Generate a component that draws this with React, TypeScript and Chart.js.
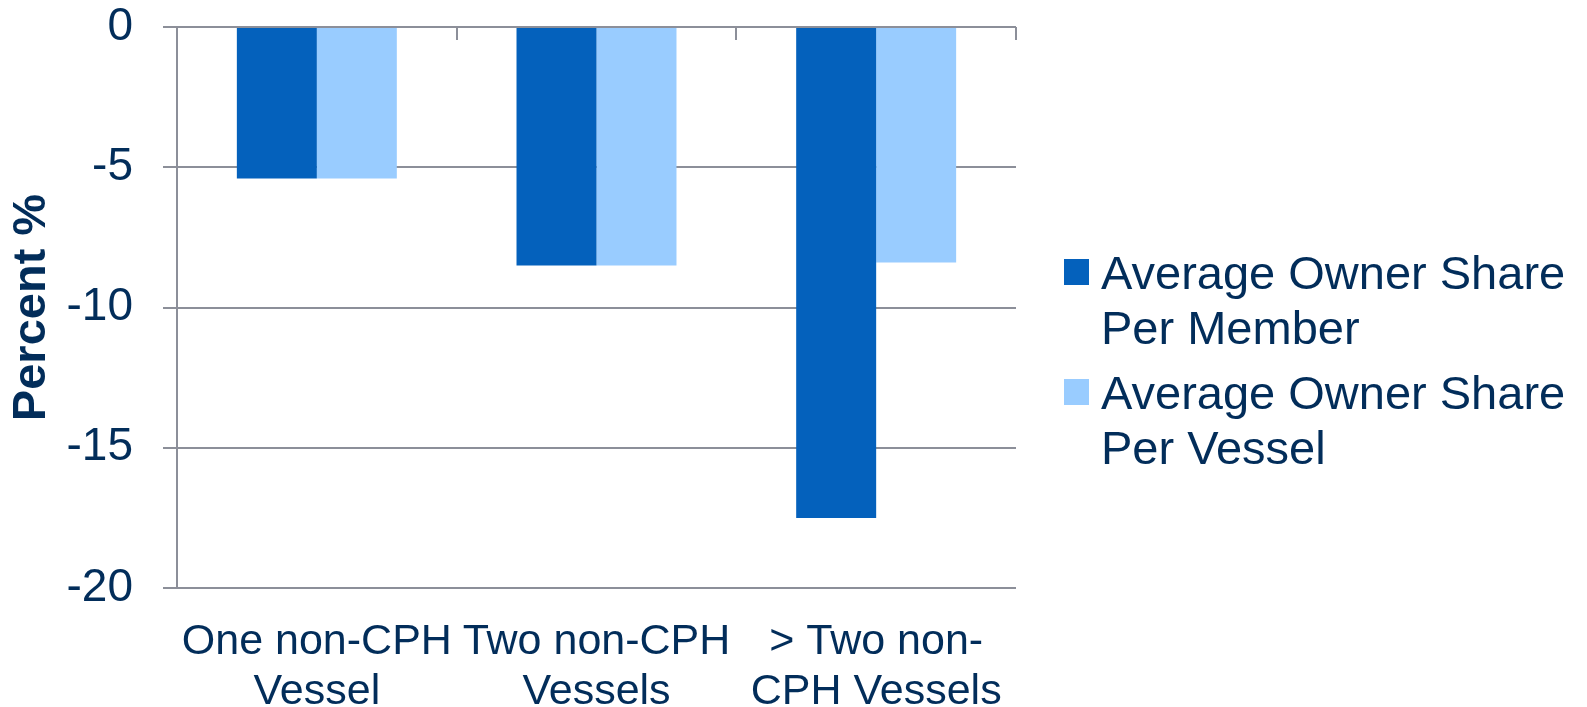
import React, { useEffect, useRef } from 'react';
import { Chart, registerables } from 'chart.js';

Chart.register(...registerables);

const categories: string[][] = [
  ['One non-CPH', 'Vessel'],
  ['Two non-CPH', 'Vessels'],
  ['> Two non-', 'CPH Vessels'],
];
const perMember: number[] = [-5.4, -8.5, -17.5];
const perVessel: number[] = [-5.4, -8.5, -8.4];
const seriesNames: string[] = ['Average Owner Share Per Member', 'Average Owner Share Per Vessel'];
const seriesColors: string[] = ['#0461BC', '#99CCFF'];
const yMin = -20;
const yMax = 0;
const yStep = 5;

const TEXT = '#022D5A';
const GRID = '#8C8F99';
const FONT = "'Liberation Sans', Arial, sans-serif";

const topTicksPlugin = {
  id: 'topTicks',
  afterDraw(chart: any) {
    const x = chart.scales.x;
    const y = chart.scales.y;
    const ctx = chart.ctx;
    const n = chart.data.labels.length;
    const y0 = y.getPixelForValue(0);
    ctx.save();
    ctx.strokeStyle = GRID;
    ctx.lineWidth = 2;
    for (let i = 0; i <= n; i++) {
      const px = Math.round(x.left + (i * (x.right - x.left)) / n);
      ctx.beginPath();
      ctx.moveTo(px, y0);
      ctx.lineTo(px, y0 + 13);
      ctx.stroke();
    }
    ctx.restore();
  },
};

const legendPlugin = {
  id: 'wrapLegend',
  afterDraw(chart: any) {
    const ctx = chart.ctx;
    const area = chart.chartArea;
    const boxX = area.right + 48;
    const textX = area.right + 85;
    const maxW = 480;
    const lineH = 55;
    const entryGap = 10;
    let baseline = 289;
    ctx.save();
    ctx.font = `47px ${FONT}`;
    ctx.textBaseline = 'alphabetic';
    ctx.textAlign = 'left';
    chart.data.datasets.forEach((ds: any) => {
      const words = String(ds.label).split(' ');
      const lines: string[] = [];
      let cur = '';
      words.forEach((w: string) => {
        const t = cur ? cur + ' ' + w : w;
        if (ctx.measureText(t).width > maxW && cur) {
          lines.push(cur);
          cur = w;
        } else cur = t;
      });
      if (cur) lines.push(cur);
      ctx.fillStyle = ds.backgroundColor;
      ctx.fillRect(boxX, baseline - 30, 25, 26);
      ctx.fillStyle = TEXT;
      lines.forEach((l, i) => {
        ctx.fillText(l, textX, baseline + i * lineH);
      });
      baseline += lines.length * lineH + entryGap;
    });
    ctx.restore();
  },
};

export default function App() {
  const ref = useRef<HTMLCanvasElement | null>(null);
  useEffect(() => {
    document.body.style.margin = '0';
    if (!ref.current) return;
    const chart = new Chart(ref.current, {
      type: 'bar',
      data: {
        labels: categories,
        datasets: [
          {
            label: seriesNames[0],
            data: perMember,
            backgroundColor: seriesColors[0],
            categoryPercentage: 0.572,
            barPercentage: 1.0,
          },
          {
            label: seriesNames[1],
            data: perVessel,
            backgroundColor: seriesColors[1],
            categoryPercentage: 0.572,
            barPercentage: 1.0,
          },
        ],
      },
      options: {
        responsive: false,
        animation: false,
        devicePixelRatio: 1,
        layout: { padding: { top: 27, right: 571, bottom: 0, left: 0 } },
        plugins: {
          legend: { display: false },
          tooltip: { enabled: false },
          title: { display: false },
        },
        scales: {
          x: {
            grid: { display: false, drawTicks: false },
            border: { display: false },
            ticks: {
              color: TEXT,
              font: { family: FONT, size: 43, lineHeight: 1.16 },
              padding: 29,
              maxRotation: 0,
              minRotation: 0,
              autoSkip: false,
            },
            afterFit(scale: any) {
              scale.height = 119;
            },
          },
          y: {
            min: yMin,
            max: yMax,
            ticks: {
              stepSize: yStep,
              color: TEXT,
              font: { family: FONT, size: 46 },
              padding: 30,
            },
            grid: {
              color: GRID,
              lineWidth: 2,
              tickLength: 14,
              drawTicks: true,
            },
            border: { display: true, color: GRID, width: 2 },
            title: {
              display: true,
              text: 'Percent %',
              color: TEXT,
              font: { family: FONT, size: 47, weight: 'bold', lineHeight: 1.2 },
              padding: { top: 4, bottom: 0 },
            },
            afterFit(scale: any) {
              scale.width = 177;
              scale.paddingTop = 0;
              scale.paddingBottom = 0;
            },
          },
        },
      },
      plugins: [topTicksPlugin, legendPlugin],
    });
    return () => chart.destroy();
  }, []);
  return <canvas ref={ref} width={1587} height={707} style={{ display: 'block' }} />;
}
